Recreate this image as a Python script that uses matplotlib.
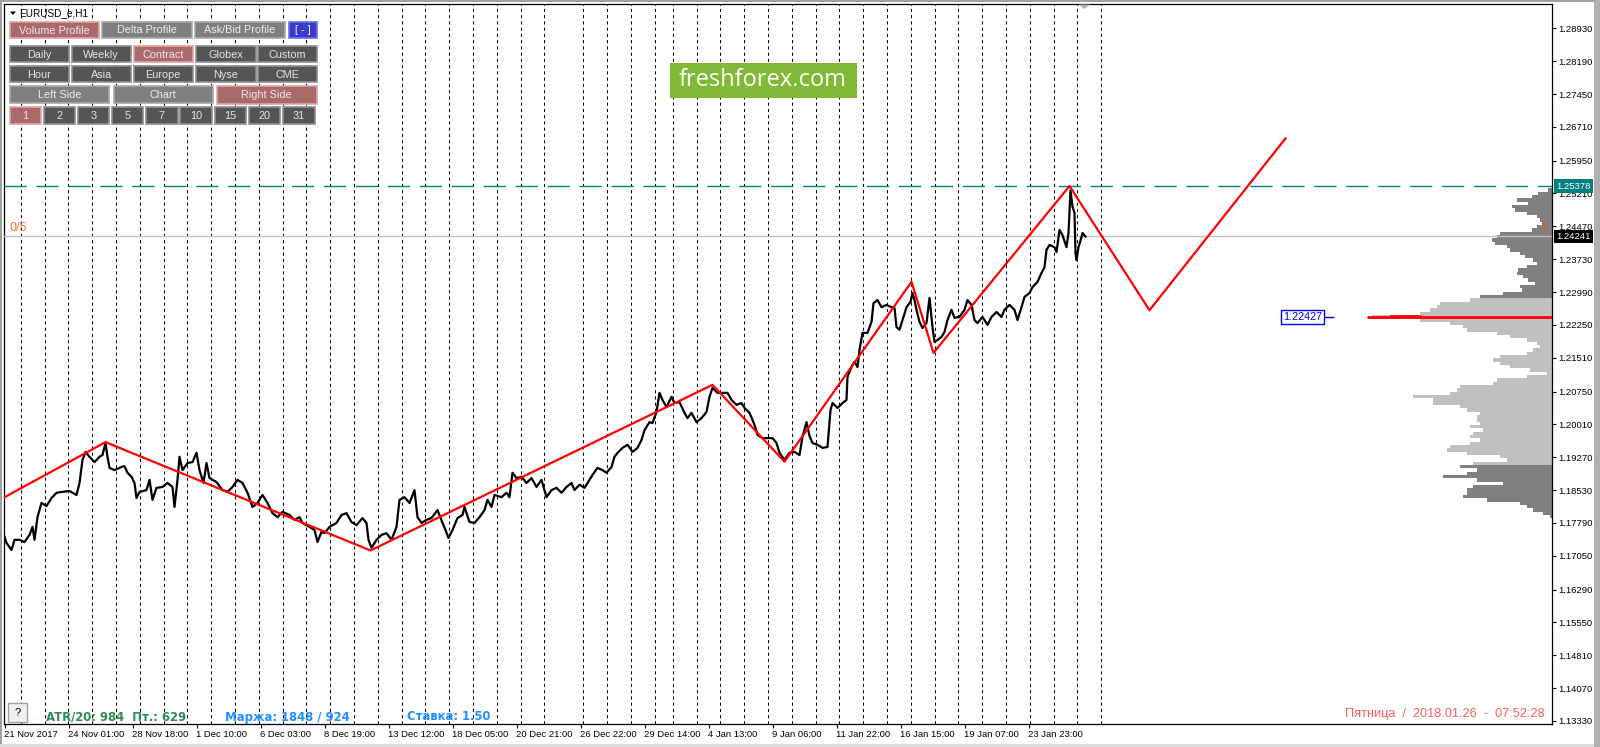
import matplotlib
matplotlib.use("Agg")
import matplotlib.pyplot as plt
import numpy as np
from matplotlib.patches import Rectangle, Polygon
from matplotlib.transforms import blended_transform_factory

plt.rcParams['font.family'] = ['Liberation Sans', 'DejaVu Sans']

# ---- data (x = H1 bar number, bar 0 = first visible bar) ----
close_bars = [0, 2, 7, 10, 15, 20, 25, 28, 30, 33, 37, 42, 47, 52, 58, 65, 72, 75, 78, 81,
              85, 90, 95, 98, 101, 103, 105, 110, 117, 120, 123, 127, 130, 132, 135, 142, 145, 148, 152, 158,
              163, 168, 170, 173, 175, 178, 183, 188, 192, 195, 199, 202, 205, 212, 218, 223, 228, 233, 238, 243,
              248, 253, 258, 263, 268, 273, 278, 285, 290, 295, 298, 305, 310, 313, 317, 320, 325, 332, 337, 342,
              347, 352, 358, 362, 364, 367, 372, 377, 382, 387, 392, 395, 400, 405, 410, 413, 417, 422, 427, 433,
              438, 441, 444, 448, 453, 458, 460, 465, 470, 475, 480, 483, 487, 490, 497, 502, 505, 508, 512, 517,
              522, 527, 532, 537, 542, 547, 552, 557, 562, 567, 570, 575, 580, 585, 588, 593, 598, 602, 607, 610,
              613, 618, 623, 628, 633, 637, 640, 645, 648, 652, 655, 658, 662, 667, 670, 675, 680, 683, 687, 692,
              697, 702, 705, 708, 713, 718, 723, 727, 732, 737, 740, 745, 750, 753, 758, 763, 768, 772, 775, 780,
              785, 790, 795, 798, 802, 805, 808, 813, 818, 823, 826, 828, 833, 838, 842, 843, 847, 850, 853, 855,
              858, 863, 867, 869, 873, 877, 882, 887, 890, 892, 895, 898, 902, 906, 908, 910, 912, 915, 918, 922,
              925, 928, 930, 933, 937, 940, 943, 947, 950, 955, 960, 963, 967, 970, 973, 978, 983, 987, 992, 997,
              1000, 1005, 1010, 1013, 1017, 1020, 1025, 1028, 1033, 1037, 1040, 1042, 1045, 1050, 1052, 1055, 1058, 1062, 1064, 1066,
              1068, 1070, 1071, 1072, 1074, 1077, 1078, 1081]
close_prices = [1.1748, 1.1734, 1.1718, 1.1741, 1.1741, 1.1736, 1.1752, 1.1770, 1.1741, 1.1792, 1.1824, 1.1817, 1.1835, 1.1847, 1.1849, 1.1851, 1.1842, 1.1869, 1.1921, 1.1939,
                1.1928, 1.1916, 1.1928, 1.1932, 1.1959, 1.1928, 1.1903, 1.1898, 1.1905, 1.1907, 1.1892, 1.1883, 1.1869, 1.1835, 1.1849, 1.1853, 1.1876, 1.1831, 1.1858, 1.1860,
                1.1869, 1.1860, 1.1815, 1.1876, 1.1928, 1.1898, 1.1914, 1.1916, 1.1937, 1.1898, 1.1869, 1.1914, 1.1880, 1.1871, 1.1853, 1.1849, 1.1860, 1.1876, 1.1869, 1.1847,
                1.1815, 1.1824, 1.1842, 1.1824, 1.1801, 1.1792, 1.1804, 1.1797, 1.1786, 1.1792, 1.1779, 1.1770, 1.1763, 1.1736, 1.1759, 1.1756, 1.1770, 1.1779, 1.1797, 1.1801,
                1.1781, 1.1774, 1.1790, 1.1779, 1.1741, 1.1723, 1.1741, 1.1752, 1.1756, 1.1741, 1.1770, 1.1831, 1.1837, 1.1824, 1.1853, 1.1792, 1.1779, 1.1786, 1.1790, 1.1808,
                1.1779, 1.1763, 1.1745, 1.1763, 1.1790, 1.1797, 1.1815, 1.1781, 1.1779, 1.1792, 1.1808, 1.1831, 1.1815, 1.1842, 1.1837, 1.1847, 1.1837, 1.1892, 1.1880, 1.1883,
                1.1869, 1.1880, 1.1860, 1.1876, 1.1837, 1.1853, 1.1858, 1.1847, 1.1860, 1.1869, 1.1853, 1.1865, 1.1858, 1.1876, 1.1887, 1.1903, 1.1898, 1.1892, 1.1905, 1.1928,
                1.1937, 1.1948, 1.1955, 1.1939, 1.1948, 1.1966, 1.1988, 1.2006, 1.2004, 1.2029, 1.2072, 1.2056, 1.2040, 1.2063, 1.2049, 1.2051, 1.2027, 1.2015, 1.2027, 1.2006,
                1.2015, 1.2029, 1.2063, 1.2083, 1.2072, 1.2072, 1.2072, 1.2056, 1.2045, 1.2049, 1.2038, 1.2027, 1.2000, 1.1977, 1.1970, 1.1970, 1.1970, 1.1959, 1.1937, 1.1921,
                1.1937, 1.1939, 1.1932, 1.1973, 1.2006, 1.1975, 1.1959, 1.1955, 1.1948, 1.1950, 1.2033, 1.2049, 1.2038, 1.2049, 1.2056, 1.2108, 1.2130, 1.2142, 1.2130, 1.2169,
                1.2207, 1.2207, 1.2232, 1.2274, 1.2281, 1.2265, 1.2270, 1.2265, 1.2263, 1.2220, 1.2214, 1.2236, 1.2265, 1.2277, 1.2297, 1.2281, 1.2259, 1.2232, 1.2218, 1.2229,
                1.2286, 1.2220, 1.2187, 1.2191, 1.2198, 1.2209, 1.2236, 1.2259, 1.2241, 1.2243, 1.2259, 1.2281, 1.2270, 1.2236, 1.2229, 1.2243, 1.2225, 1.2243, 1.2254, 1.2243,
                1.2259, 1.2270, 1.2259, 1.2236, 1.2265, 1.2288, 1.2297, 1.2310, 1.2322, 1.2342, 1.2355, 1.2394, 1.2405, 1.2400, 1.2389, 1.2439, 1.2427, 1.2400, 1.2432, 1.2528,
                1.2491, 1.2477, 1.2387, 1.2371, 1.2400, 1.2423, 1.2432, 1.2424]

zigzag_bars = [0, 101, 366, 708, 780, 907, 929, 1065, 1145, 1281]
zigzag_prices = [1.1837, 1.1961, 1.1717, 1.2090, 1.1917, 1.2322, 1.2162, 1.25378, 1.2258, 1.2645]

last_price = 1.24241
high_price = 1.25378
poc_price = 1.22427

date_bars = [0, 64, 128, 192, 256, 320, 384, 448, 512, 576, 640, 704, 768, 832, 896, 960, 1024]
date_labels = ['21 Nov 2017', '24 Nov 01:00', '28 Nov 18:00', '1 Dec 10:00', '6 Dec 03:00', '8 Dec 19:00',
               '13 Dec 12:00', '18 Dec 05:00', '20 Dec 21:00', '26 Dec 22:00', '29 Dec 14:00', '4 Jan 13:00',
               '9 Jan 06:00', '11 Jan 22:00', '16 Jan 15:00', '19 Jan 07:00', '23 Jan 23:00']

price_ticks = [1.28930, 1.28190, 1.27450, 1.26710, 1.25950, 1.25210, 1.24470, 1.23730, 1.22990, 1.22250,
               1.21510, 1.20750, 1.20010, 1.19270, 1.18530, 1.17790, 1.17050, 1.16290, 1.15550, 1.14810,
               1.14070, 1.13330]

# volume profile (contract), levels from the top down
profile_top = 1.25289
profile_step = 0.000751
profile_volume = [4, 14, 20, 35, 24, 40, 37, 25, 15, 12, 10, 15, 20, 52, 55, 60, 57, 45, 42, 32,
                  27, 19, 15, 25, 34, 35, 29, 24, 17, 32, 30, 49, 72, 82, 112, 115, 122, 132, 180, 132,
                  102, 89, 85, 55, 42, 25, 15, 12, 19, 25, 52, 59, 52, 42, 22,
                  5, 25, 55, 59, 92, 95, 102, 139, 119, 119, 92, 85, 72, 75, 75, 72, 82, 69, 79, 82,
                  72, 82, 102, 105, 85, 52, 45, 79, 92, 75, 85, 109, 75, 49, 79, 85, 85, 89, 65, 32,
                  25, 19, 9, 2]
value_area_high = 1.22885
value_area_low = 1.19073

# ---- figure ----
W, H = 1600, 747
fig = plt.figure(figsize=(W / 100, H / 100), dpi=100)
fig.patch.set_facecolor('white')

ax = fig.add_axes([4 / W, 23 / H, 1548 / W, 720 / H])
ax.set_xlim(-0.5, 1547.5)
ax.set_ylim(1.13262, 1.29477)
ax.set_facecolor('white')
for side in ['top', 'bottom', 'left', 'right']:
    ax.spines[side].set_linewidth(0.9)
    ax.spines[side].set_color('black')

# day separators
day_lines = np.concatenate([np.arange(16.2, 541, 23.8),
                            np.arange(578.8, 651, 23.8),
                            np.arange(668.4, 1099, 23.8)])
ax.vlines(day_lines, 1.13262, 1.29477, colors='black', linewidth=0.75,
          linestyles=[(0, (3, 3))], zorder=1)

# profile
prof_prices = profile_top - profile_step * np.arange(len(profile_volume))
prof_vol = np.array(profile_volume, dtype=float)
prof_colors = ['#c0c0c0' if value_area_low <= p <= value_area_high else '#808080' for p in prof_prices]
ax.barh(prof_prices, prof_vol, height=profile_step, left=1547.5 - prof_vol,
        color=prof_colors, linewidth=0, zorder=2)

ax.axhline(last_price, color='#c0c0c0', linewidth=1.0, zorder=3)
ax.axhline(high_price, color='#008080', linewidth=1.0, dashes=(16, 7), zorder=3)

ax.plot(close_bars, close_prices, color='black', linewidth=1.6, zorder=4)
ax.plot(zigzag_bars, zigzag_prices, color='#ff0000', linewidth=1.6, zorder=5)

# POC line and label
ax.hlines(poc_price, 1362.5, 1547.5, color='#ff0000', linewidth=2.0, zorder=5)
ax.hlines(poc_price + 0.00034, 1385, 1416, color='#ff0000', linewidth=1.2, zorder=5)
ax.hlines(poc_price - 0.0003, 1364, 1394, color='#ff0000', linewidth=1.2, zorder=5)
ax.hlines(poc_price, 1318.8, 1329.5, color='#0000ff', linewidth=1.0, zorder=5)
ax.text(1298, poc_price, '1.22427', color='#0000ff', fontsize=7.8, ha='center', va='center',
        bbox=dict(boxstyle='square,pad=0.15', fc='white', ec='#0000ff', lw=1.0), zorder=6)

# axes ticks
ax.yaxis.tick_right()
ax.set_yticks(price_ticks)
ax.set_yticklabels(['%.5f' % p for p in price_ticks])
ax.set_xticks(date_bars)
ax.set_xticklabels(date_labels)
for lab in ax.get_xticklabels():
    lab.set_ha('left')
ax.tick_params(axis='y', which='both', right=True, left=False, length=3, width=0.8,
               pad=1.2, labelsize=6.8, colors='black')
ax.tick_params(axis='x', which='both', bottom=True, top=False, length=3, width=0.8,
               pad=1.5, labelsize=6.8, colors='black')

# price boxes on the right scale
btr = blended_transform_factory(ax.transAxes, ax.transData)
ax.text(1 + 4.5 / 1548, high_price, '%.5f' % high_price, transform=btr, color='white', fontsize=6.8,
        ha='left', va='center', bbox=dict(boxstyle='square,pad=0.22', fc='#008080', ec='none'), zorder=7)
ax.text(1 + 4.5 / 1548, last_price, '%.5f' % last_price, transform=btr, color='white', fontsize=6.8,
        ha='left', va='center', bbox=dict(boxstyle='square,pad=0.22', fc='black', ec='none'), zorder=7)

# ---- overlay in pixel coordinates for the terminal widgets ----
ui = fig.add_axes([0, 0, 1, 1], zorder=10)
ui.set_xlim(0, W)
ui.set_ylim(H, 0)
ui.axis('off')
ui.patch.set_alpha(0)

# window frame
ui.add_patch(Rectangle((0, 0), W, 2.2, fc='#a0a0a0', ec='none'))
ui.add_patch(Rectangle((0, 0), 2, H, fc='#a0a0a0', ec='none'))
ui.add_patch(Rectangle((1594, 0), 6, H, fc='#b0b0b0', ec='none'))
ui.add_patch(Rectangle((0, 744), 1594, 3, fc='#dcdcdc', ec='none'))
ui.add_patch(Polygon([(1079, 4.5), (1090, 4.5), (1084.5, 9)], closed=True, fc='#b0b0b0', ec='none'))

# symbol caption
ui.add_patch(Polygon([(10, 11.5), (16, 11.5), (13, 15)], closed=True, fc='black', ec='none'))
ui.text(19, 13.5, 'EURUSD_e,H1', fontsize=7.2, color='black', ha='left', va='center')

RED = ('#a86a6a', '#e3a3a3', '#f5e6e6')
MID = ('#7f7f7f', '#a9a9a9', '#eeeeee')
DARK = ('#555555', '#8e8e8e', '#e6e6e6')
BLUE = ('#3a3acc', '#7070f0', '#ffffff')


def button(x0, y0, x1, y1, label, style, size=7.8):
    face, edge, txt = style
    ui.add_patch(Rectangle((x0, y0), x1 - x0, y1 - y0, fc=face, ec=edge, lw=1.2))
    ui.text((x0 + x1) / 2, (y0 + y1) / 2 + 0.5, label, fontsize=size, color=txt,
            ha='center', va='center')


button(9.5, 22, 99, 38, 'Volume Profile', RED)
button(102, 22, 192, 37.5, 'Delta Profile', MID)
button(195, 22, 285, 37.5, 'Ask/Bid Profile', MID)
button(288.5, 22, 316.5, 37.5, '[ - ]', BLUE)

col_x = [(9.5, 69), (71.5, 131), (133.5, 193), (195.5, 255.5), (258, 316.5)]
for (x0, x1), lab in zip(col_x, ['Daily', 'Weekly', 'Contract', 'Globex', 'Custom']):
    button(x0, 46, x1, 62, lab, RED if lab == 'Contract' else DARK)
for (x0, x1), lab in zip(col_x, ['Hour', 'Asia', 'Europe', 'Nyse', 'CME']):
    button(x0, 66, x1, 82, lab, DARK)

button(9.5, 86, 109, 103, 'Left Side', MID)
button(113.5, 86, 212.5, 103, 'Chart', MID)
button(217, 86, 316.5, 104, 'Right Side', RED)

num_x = [(9.5, 40.5), (43.5, 75), (77.5, 109), (112, 143), (146, 177.5),
         (180, 211.5), (214.5, 246), (248.5, 280), (283, 315)]
for (x0, x1), lab in zip(num_x, ['1', '2', '3', '5', '7', '10', '15', '20', '31']):
    button(x0, 107, x1, 123.5, lab, RED if lab == '1' else DARK)

# logo
ui.add_patch(Rectangle((670, 62.7), 186.7, 35, fc='#80b935', ec='none'))
ui.text(763, 79.5, 'freshforex.com', fontsize=17, color='white', ha='center', va='center',
        family=['Open Sans', 'DejaVu Sans'])

# small markers
ui.text(10, 228, '0/5', fontsize=9, color='#ff6a3c', ha='left', va='center')
ui.text(1541, 228, '1', fontsize=9.5, color='#e0582a', ha='left', va='center')

# bottom info line
ui.add_patch(Rectangle((8, 703), 19, 19, fc='#f0f0f0', ec='#a0a0a0', lw=1.0))
ui.text(17.5, 712.5, '?', fontsize=8, color='black', ha='center', va='center')
info_font = ['DejaVu Sans']
ui.text(46, 717, 'ATR/20: 984  Пт.: 629', fontsize=8.4, fontweight='bold', color='#2e8b57',
        ha='left', va='center', family=info_font)
ui.text(225, 717, 'Маржа: 1848 / 924', fontsize=8.4, fontweight='bold', color='#1e90ff',
        ha='left', va='center', family=info_font)
ui.text(407, 717, 'Ставка: 1.50', fontsize=8.4, fontweight='bold', color='#1e90ff',
        ha='left', va='center', family=info_font)
ui.text(1545, 714, 'Пятница  /  2018.01.26  -  07:52:28', fontsize=9.2, color='#ff5a5a',
        ha='right', va='center')

fig.savefig('out.png', dpi=100)
